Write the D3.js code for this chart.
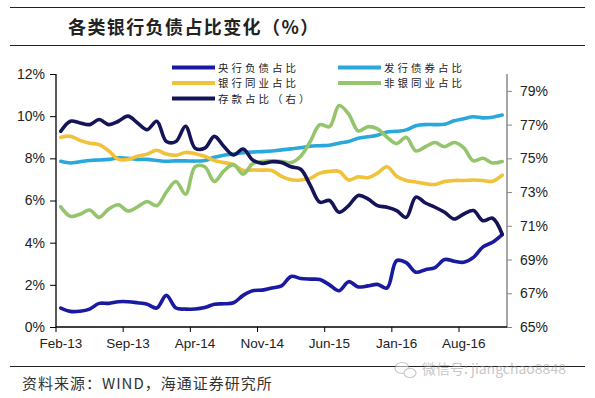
<!DOCTYPE html>
<html>
<head>
<meta charset="utf-8">
<script src="https://cdn.jsdelivr.net/npm/d3@7"></script>
<style>
  body { margin: 0; background: #fff; }
  svg { display: block; }
  text { font-family: "Liberation Sans", Arial, sans-serif; }
  .cjk { font-family: "Noto Sans CJK SC", sans-serif; }
</style>
</head>
<body>
<div id="vis"></div>
<script>
// months Feb-13 .. Dec-16
var months = d3.timeMonth.range(new Date(2013, 1, 1), new Date(2017, 0, 1));

// left axis series (%)
var centralBank = [0.9, 0.74, 0.75, 0.85, 1.12, 1.12, 1.2, 1.2, 1.15, 1.08, 0.9, 1.5, 0.9, 0.85, 0.85, 0.92,
	1.08, 1.1, 1.15, 1.5, 1.72, 1.75, 1.85, 1.95, 2.4, 2.3, 2.27, 2.25, 2.0, 1.72, 2.15, 1.9,
	1.95, 2.02, 1.85, 3.15, 3.05, 2.6, 2.72, 2.82, 3.2, 3.12, 3.07, 3.3, 3.8, 4.02, 4.38];
var bonds = [7.86, 7.78, 7.84, 7.9, 7.92, 7.95, 8.02, 8.0, 7.95, 7.95, 7.9, 7.86, 7.88, 7.88, 7.87, 7.9,
	8.05, 8.15, 8.2, 8.27, 8.3, 8.32, 8.35, 8.4, 8.45, 8.5, 8.58, 8.6, 8.62, 8.72, 8.8, 8.95,
	9.02, 9.1, 9.25, 9.28, 9.35, 9.55, 9.6, 9.6, 9.62, 9.78, 9.88, 9.97, 9.92, 9.95, 10.05];
var bankInter = [9.0, 9.05, 8.85, 8.72, 8.65, 8.35, 7.95, 7.95, 8.1, 8.2, 8.38, 8.2, 8.15, 8.28, 8.22, 8.1,
	7.9, 7.8, 7.7, 7.43, 7.45, 7.44, 7.42, 7.15, 6.98, 6.97, 7.05, 7.3, 7.38, 7.38, 6.97, 7.12,
	7.08, 7.3, 7.6, 7.15, 6.95, 6.88, 6.8, 6.76, 6.9, 6.95, 6.95, 6.97, 6.95, 6.91, 7.2];
var nonBankInter = [5.7, 5.25, 5.35, 5.55, 5.2, 5.6, 5.8, 5.5, 5.7, 5.95, 5.75, 6.4, 6.9, 6.3, 7.6, 7.6,
	6.9, 7.4, 7.7, 7.25, 7.75, 7.85, 7.88, 7.85, 7.8, 8.1, 8.8, 9.6, 9.5, 10.5, 10.1, 9.3,
	9.5, 9.4, 9.0, 8.7, 9.0, 8.35, 8.55, 8.75, 8.55, 8.75, 8.5, 7.88, 8.0, 7.78, 7.85];
// right axis series (%)
var deposits = [76.6, 77.2, 77.1, 77.0, 77.3, 77.0, 77.2, 77.5, 77.1, 76.7, 77.2, 76.0, 76.0, 76.9, 75.6, 75.6,
	76.3, 75.7, 75.2, 75.55, 74.9, 74.7, 74.8, 74.75, 74.5, 74.35, 73.4, 72.4, 72.5, 71.8, 72.2, 72.8,
	72.6, 72.2, 72.1, 71.9, 71.5, 72.7, 72.35, 72.1, 71.8, 71.4, 71.7, 71.9, 71.3, 71.45, 70.5];

var leftTicks = [0, 2, 4, 6, 8, 10, 12];
var rightTicks = [65, 67, 69, 71, 73, 75, 77, 79];

var series = [
	{name: '央行负债占比', values: centralBank, color: '#1a1aa0', axis: 'L'},
	{name: '发行债券占比', values: bonds, color: '#2aa8dc', axis: 'L'},
	{name: '银行同业占比', values: bankInter, color: '#f0c23a', axis: 'L'},
	{name: '非银同业占比', values: nonBankInter, color: '#94c56c', axis: 'L'},
	{name: '存款占比（右）', values: deposits, color: '#141458', axis: 'R'}
];

var width = 595, height = 398;
var plot = {left: 56, right: 507, top: 74, bottom: 327};

var svg = d3.select('#vis')
	.append('svg')
	.attr('width', width)
	.attr('height', height);

// header and footer rules
svg.append('line').attr('x1', 10).attr('x2', 585).attr('y1', 7.5).attr('y2', 7.5)
	.attr('stroke', '#222').attr('stroke-width', 1.2);
svg.append('line').attr('x1', 10).attr('x2', 585).attr('y1', 45.5).attr('y2', 45.5)
	.attr('stroke', '#222').attr('stroke-width', 1.2);
svg.append('text').attr('class', 'cjk')
	.attr('x', 68).attr('y', 34)
	.attr('font-size', 18).attr('font-weight', 'bold').attr('fill', '#222')
	.attr('letter-spacing', 1.4)
	.text('各类银行负债占比变化（%）');

var x = d3.scaleBand()
	.domain(months)
	.range([plot.left, plot.right])
	.paddingInner(0).paddingOuter(0);
var yL = d3.scaleLinear().domain([0, 12]).range([plot.bottom, plot.top]);
var yR = d3.scaleLinear().domain([65, 80]).range([plot.bottom, plot.top]);

var fmtMonth = d3.timeFormat('%b-%y');

// left axis
var leftAxis = svg.append('g')
	.attr('transform', 'translate(' + plot.left + ',0)')
	.call(d3.axisLeft(yL).tickValues(leftTicks).tickSize(6).tickPadding(5)
		.tickFormat(function(d) { return d + '%'; }));
leftAxis.select('.domain').attr('stroke', '#000').attr('stroke-width', 1.3).attr('d', 'M0,' + plot.top + 'V' + plot.bottom);
leftAxis.selectAll('.tick line').attr('stroke', '#000');
leftAxis.selectAll('text').attr('font-size', 14).attr('fill', '#222');

// right axis
var rightAxis = svg.append('g')
	.attr('transform', 'translate(' + plot.right + ',0)')
	.call(d3.axisRight(yR).tickValues(rightTicks).tickSize(5).tickPadding(8)
		.tickFormat(function(d) { return d + '%'; }));
rightAxis.select('.domain').attr('stroke', '#888').attr('stroke-width', 1.5).attr('d', 'M0,' + plot.top + 'V' + plot.bottom);
rightAxis.selectAll('.tick line').attr('stroke', '#888');
rightAxis.selectAll('text').attr('font-size', 14).attr('fill', '#222');

// bottom axis: ticks at category boundaries every 7 months
var labelMonths = months.filter(function(d, i) { return i % 7 === 0; });
var bottom = svg.append('g');
bottom.append('line')
	.attr('x1', plot.left).attr('x2', plot.right)
	.attr('y1', plot.bottom).attr('y2', plot.bottom)
	.attr('stroke', '#000').attr('stroke-width', 1.3);
bottom.selectAll('.xt')
	.data(labelMonths)
	.enter()
	.append('line')
	.attr('x1', function(d) { return x(d); })
	.attr('x2', function(d) { return x(d); })
	.attr('y1', plot.bottom).attr('y2', plot.bottom + 5)
	.attr('stroke', '#000');
bottom.selectAll('.xl')
	.data(labelMonths)
	.enter()
	.append('text')
	.attr('x', function(d) { return x(d) + x.bandwidth() / 2; })
	.attr('y', plot.bottom + 21)
	.attr('text-anchor', 'middle')
	.attr('font-size', 13.5).attr('fill', '#222')
	.text(function(d) { return fmtMonth(d); });

// lines
series.forEach(function(s) {
	var yScale = s.axis === 'L' ? yL : yR;
	var line = d3.line()
		.x(function(d, i) { return x(months[i]) + x.bandwidth() / 2; })
		.y(function(d) { return yScale(d); })
		.curve(d3.curveCatmullRom.alpha(0.5));
	svg.append('path')
		.datum(s.values)
		.attr('d', line)
		.attr('fill', 'none')
		.attr('stroke', s.color)
		.attr('stroke-width', 3.6)
		.attr('stroke-linejoin', 'round')
		.attr('stroke-linecap', 'round');
});

// legend: two columns, three rows
var rowY = [67.5, 83, 98.5];
var columns = [
	{x: 172, items: [0, 2, 4]},
	{x: 338, items: [1, 3]}
];
var legend = svg.append('g');
columns.forEach(function(col) {
	col.items.forEach(function(k, r) {
		var s = series[k];
		legend.append('line')
			.attr('x1', col.x).attr('x2', col.x + 43)
			.attr('y1', rowY[r]).attr('y2', rowY[r])
			.attr('stroke', s.color).attr('stroke-width', 4);
		legend.append('text').attr('class', 'cjk')
			.attr('x', col.x + 46).attr('y', rowY[r] + 4)
			.attr('font-size', 10.5).attr('fill', '#222')
			.attr('letter-spacing', 3)
			.text(s.name);
	});
});

// footer
svg.append('line').attr('x1', 10).attr('x2', 585).attr('y1', 366.5).attr('y2', 366.5)
	.attr('stroke', '#222').attr('stroke-width', 1.2);
svg.append('text').attr('class', 'cjk')
	.attr('x', 22).attr('y', 389)
	.attr('font-size', 15).attr('fill', '#333')
	.attr('letter-spacing', 1)
	.text('资料来源：WIND，海通证券研究所');

// watermark
var wm = svg.append('g').attr('opacity', 0.55);
wm.append('ellipse').attr('cx', 402).attr('cy', 368).attr('rx', 7).attr('ry', 5.5)
	.attr('fill', '#fff').attr('stroke', '#999').attr('stroke-width', 1.2);
wm.append('ellipse').attr('cx', 410).attr('cy', 373).attr('rx', 6).attr('ry', 4.5)
	.attr('fill', '#fff').attr('stroke', '#999').attr('stroke-width', 1.2);
wm.append('text').attr('class', 'cjk')
	.attr('x', 422).attr('y', 374)
	.attr('font-size', 14).attr('fill', '#999')
	.text('微信号: jiangchao8848');
</script>
</body>
</html>
